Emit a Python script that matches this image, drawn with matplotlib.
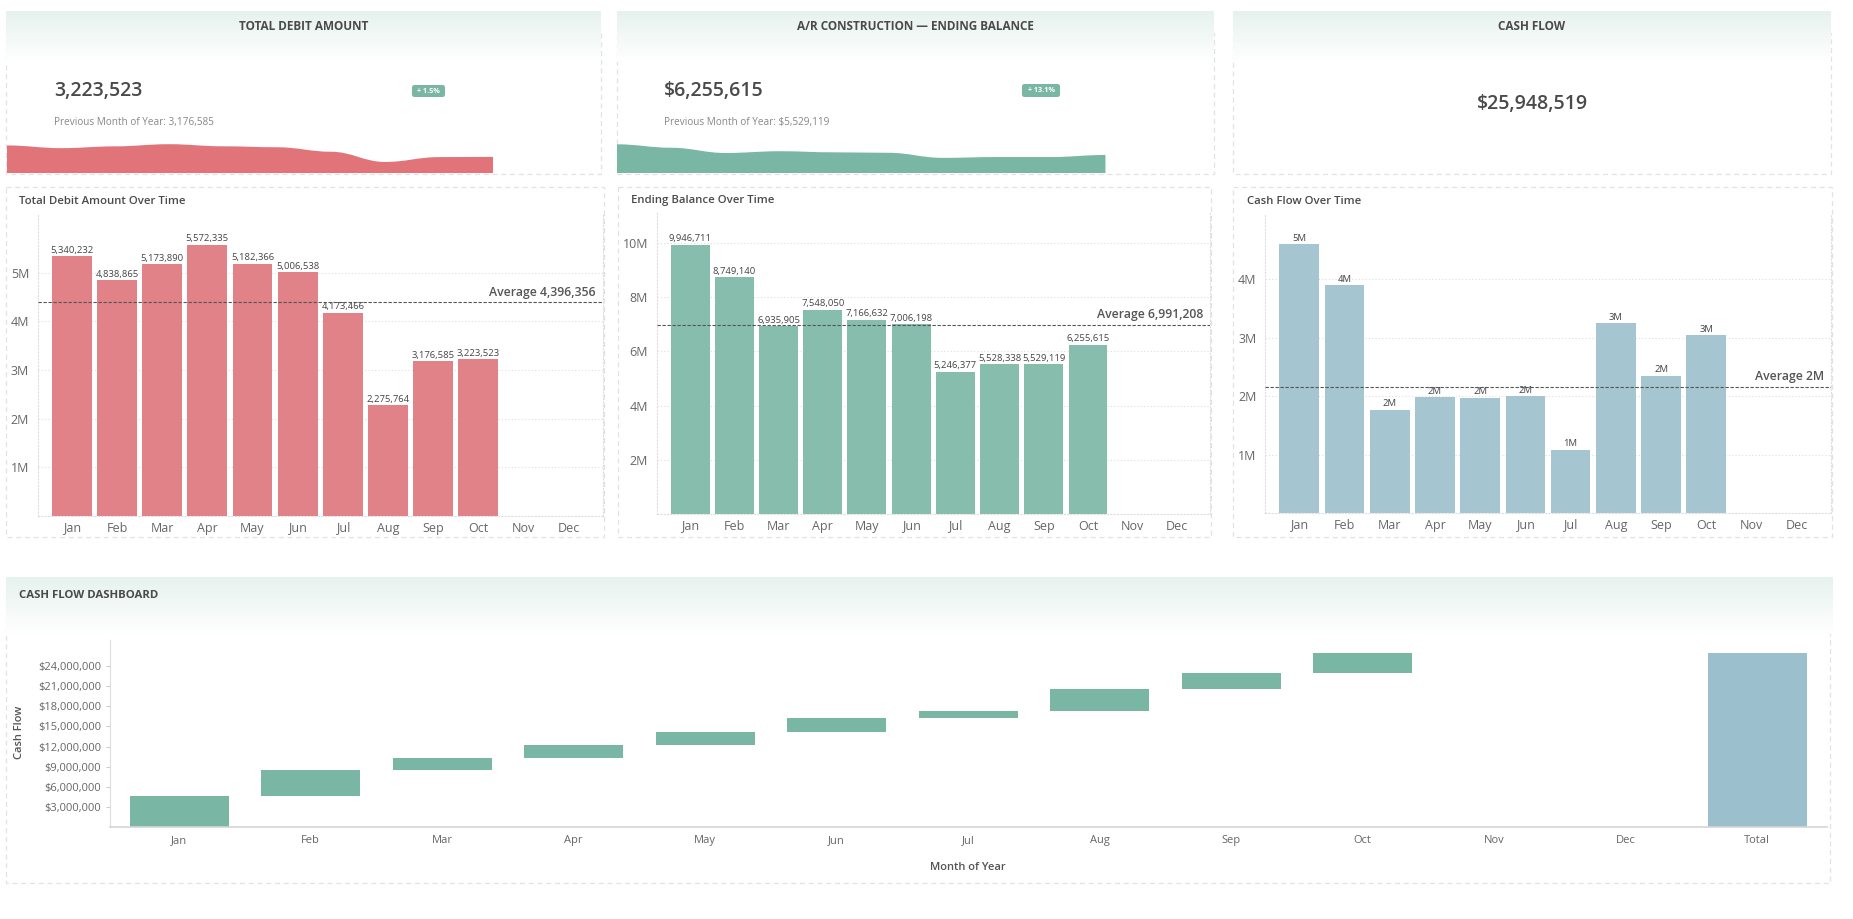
import numpy as np
import matplotlib
matplotlib.use("Agg")
import matplotlib.pyplot as plt
from matplotlib.patches import Rectangle, FancyBboxPatch, PathPatch
from matplotlib.path import Path
from matplotlib.ticker import FuncFormatter, FixedLocator

plt.rcParams['font.family'] = ['Open Sans', 'DejaVu Sans']

# ---------------- data ----------------
months = ['Jan', 'Feb', 'Mar', 'Apr', 'May', 'Jun', 'Jul', 'Aug', 'Sep', 'Oct', 'Nov', 'Dec']
debit = [5340232, 4838865, 5173890, 5572335, 5182366, 5006538, 4173466, 2275764, 3176585, 3223523]
ending = [9946711, 8749140, 6935905, 7548050, 7166632, 7006198, 5246377, 5528338, 5529119, 6255615]
cashflow = [4598000, 3902000, 1768000, 1978000, 1975000, 1996000, 1082000, 3252000, 2352000, 3045519]
waterfall_labels = months + ['Total']
wf_ticks = [3e6, 6e6, 9e6, 12e6, 15e6, 18e6, 21e6, 24e6]

W, H = 1853, 919
fig = plt.figure(figsize=(W / 100, H / 100), dpi=100)
fig.patch.set_facecolor('white')

TXT = '#4a4a4a'
TICK = '#666666'
BORDER = '#e2e2e2'
RED_BAR = '#e08287'
RED_SPARK = '#e07479'
GREEN_BAR = '#87bdac'
GREEN_SPARK = '#7ab6a4'
BLUE_BAR = '#a5c6d0'
BLUE_TOTAL = '#9bbfcd'


def rect(x0, y0, x1, y1):
    return [x0 / W, 1 - y1 / H, (x1 - x0) / W, (y1 - y0) / H]


bg = fig.add_axes([0, 0, 1, 1])
bg.set_xlim(0, W)
bg.set_ylim(H, 0)
bg.axis('off')

grad = np.linspace(0, 1, 64)[:, None]
top_c = np.array([230, 242, 238]) / 255.0
img = top_c[None, None, :] * (1 - grad[:, :, None]) + np.ones(3)[None, None, :] * grad[:, :, None]


def header(x0, y0, x1, y1):
    bg.imshow(img, extent=(x0, x1, y1, y0), aspect='auto', zorder=2, interpolation='bilinear')


def dashed_box(x0, y0, x1, y1):
    bg.add_patch(Rectangle((x0, y0), x1 - x0, y1 - y0, fill=False, ec=BORDER,
                           lw=0.9, ls=(0, (4, 3)), zorder=1))


# ---------------- KPI cards ----------------
cards = [(6, 601), (617, 1214), (1233, 1831)]
card_titles = ['TOTAL DEBIT AMOUNT', 'A/R CONSTRUCTION \u2014 ENDING BALANCE', 'CASH FLOW']
for (x0, x1), t in zip(cards, card_titles):
    dashed_box(x0, 33, x1, 174)
    header(x0, 11, x1, 62)
    bg.text((x0 + x1) / 2, 27, t, ha='center', va='center', fontsize=8.5,
            fontweight='bold', color=TXT, zorder=3)

# card 1
pct1 = (debit[-1] - debit[-2]) / debit[-2] * 100
bg.text(54, 91, f"{debit[-1]:,}", ha='left', va='center', fontsize=14, color=TXT, fontweight='semibold', zorder=3)
bg.text(54, 123, f"Previous Month of Year: {debit[-2]:,}", ha='left', va='center', fontsize=7.2, color='#888888', zorder=3)
bg.add_patch(FancyBboxPatch((412, 85), 33, 12, boxstyle='round,pad=0,rounding_size=2.5',
                            fc=GREEN_SPARK, ec='none', zorder=3))
bg.text(428.5, 91.3, f"+ {pct1:.1f}%", ha='center', va='center', fontsize=5.2, color='white',
        fontweight='bold', zorder=4)

# card 2
pct2 = (ending[-1] - ending[-2]) / ending[-2] * 100
bg.text(664, 91, f"${ending[-1]:,}", ha='left', va='center', fontsize=14, color=TXT, fontweight='semibold', zorder=3)
bg.text(664, 123, f"Previous Month of Year: ${ending[-2]:,}", ha='left', va='center', fontsize=7.2, color='#888888', zorder=3)
bg.add_patch(FancyBboxPatch((1022, 84), 38, 13, boxstyle='round,pad=0,rounding_size=2.5',
                            fc=GREEN_SPARK, ec='none', zorder=3))
bg.text(1041, 90.8, f"+ {pct2:.1f}%", ha='center', va='center', fontsize=5.2, color='white',
        fontweight='bold', zorder=4)

# card 3
total_cf = sum(cashflow)
bg.text(1532, 104, f"${total_cf:,}", ha='center', va='center', fontsize=14, color=TXT, fontweight='semibold', zorder=3)


def smooth_area(ax, vals, color, base):
    xs = np.arange(len(vals))
    verts = [(xs[0], base), (xs[0], vals[0])]
    codes = [Path.MOVETO, Path.LINETO]
    for i in range(len(vals) - 1):
        verts += [(xs[i] + 0.4, vals[i]), (xs[i + 1] - 0.4, vals[i + 1]), (xs[i + 1], vals[i + 1])]
        codes += [Path.CURVE4] * 3
    verts += [(xs[-1], base), (xs[0], base)]
    codes += [Path.LINETO, Path.CLOSEPOLY]
    ax.add_patch(PathPatch(Path(verts, codes), fc=color, ec='none'))


sp1 = fig.add_axes(rect(7, 140, 601, 173))
sp1.set_xlim(0, 11)
sp1.set_ylim(min(debit) * 0.1, max(debit) * 1.14)
smooth_area(sp1, debit, RED_SPARK, min(debit) * 0.1)
sp1.axis('off')

sp2 = fig.add_axes(rect(617, 140, 1214, 173))
sp2.set_xlim(0, 11)
sp2.set_ylim(0, max(ending) * 1.15)
smooth_area(sp2, ending, GREEN_SPARK, 0)
sp2.axis('off')

# ---------------- middle bar panels ----------------
panels = [
    dict(box=(6, 187, 604, 537), title='Total Debit Amount Over Time', tx=19,
         ax=(37.5, 213, 603, 516), vals=debit, color=RED_BAR, kind='full',
         ticks=[1e6, 2e6, 3e6, 4e6, 5e6], avg_div=len(debit)),
    dict(box=(618, 187, 1211, 537), title='Ending Balance Over Time', tx=631,
         ax=(656.5, 213, 1210, 514), vals=ending, color=GREEN_BAR, kind='full',
         ticks=[2e6, 4e6, 6e6, 8e6, 10e6], avg_div=len(ending)),
    dict(box=(1233, 187, 1832, 537), title='Cash Flow Over Time', tx=1247,
         ax=(1265, 213, 1831, 513), vals=cashflow, color=BLUE_BAR, kind='short',
         ticks=[1e6, 2e6, 3e6, 4e6], avg_div=len(months)),
]

for p in panels:
    dashed_box(*p['box'])
    bg.text(p['tx'], 201, p['title'], ha='left', va='center', fontsize=8.2,
            fontweight='semibold', color=TXT, zorder=3)
    ax = fig.add_axes(rect(*p['ax']))
    ax.set_facecolor('none')
    vals = p['vals']
    x = np.arange(len(vals))
    ax.bar(x, vals, width=0.88, color=p['color'], zorder=2)
    ax.set_xlim(-0.76, 11.76)
    ax.set_ylim(0, max(vals) * 1.117)
    ax.set_xticks(np.arange(len(months)))
    ax.set_xticklabels(months)
    ax.yaxis.set_major_locator(FixedLocator(p['ticks']))
    ax.yaxis.set_major_formatter(FuncFormatter(lambda v, pos: f"{v / 1e6:.0f}M"))
    ax.tick_params(axis='both', length=0, labelsize=9, colors=TICK)
    ax.tick_params(axis='x', pad=4)
    ax.tick_params(axis='y', pad=6)
    ax.grid(axis='y', color='#dddddd', ls=(0, (1, 2)), lw=0.8, zorder=0)
    for s in ['left', 'right', 'bottom']:
        ax.spines[s].set_color('#dddddd')
        ax.spines[s].set_linestyle((0, (1, 2)))
        ax.spines[s].set_linewidth(0.8)
    ax.spines['top'].set_visible(False)
    for xi, v in zip(x, vals):
        lab = f"{v:,}" if p['kind'] == 'full' else f"{v / 1e6:.0f}M"
        ax.annotate(lab, (xi, v), xytext=(0, 1), textcoords='offset points',
                    ha='center', va='bottom', fontsize=6.8, color='#444444', zorder=3)
    avg = sum(vals) / p['avg_div']
    ax.axhline(avg, color='#555555', lw=0.8, ls=(0, (3, 1.5)), zorder=3)
    avg_lab = f"Average {avg:,.0f}" if p['kind'] == 'full' else f"Average {avg / 1e6:.0f}M"
    ax.annotate(avg_lab, (1, avg), xycoords=('axes fraction', 'data'), xytext=(-5, 2.5),
                textcoords='offset points', ha='right', va='bottom', fontsize=8.8,
                fontweight='semibold', color='#555555', zorder=4)

# ---------------- waterfall ----------------
dashed_box(6, 600, 1830, 883)
header(6, 577, 1833, 634)
bg.text(19, 595, 'CASH FLOW DASHBOARD', ha='left', va='center', fontsize=8.2,
        fontweight='bold', color=TXT, zorder=3)

wf = fig.add_axes(rect(109.5, 640, 1827, 827))
wf.set_facecolor('none')
cum = np.concatenate([[0], np.cumsum(cashflow)])
starts = cum[:-1]
wf.bar(np.arange(len(cashflow)), cashflow, bottom=starts, width=0.75, color=GREEN_SPARK, zorder=2)
wf.bar([len(waterfall_labels) - 1], [total_cf], width=0.75, color=BLUE_TOTAL, zorder=2)
wf.set_xlim(-0.53, len(waterfall_labels) - 1 + 0.53)
wf.set_ylim(0, total_cf * 1.075)
wf.set_xticks(np.arange(len(waterfall_labels)))
wf.set_xticklabels(waterfall_labels)
wf.yaxis.set_major_locator(FixedLocator(wf_ticks))
wf.yaxis.set_major_formatter(FuncFormatter(lambda v, pos: f"${v:,.0f}"))
wf.tick_params(axis='y', length=3, width=0.8, color='#cccccc', labelsize=8, colors=TICK, labelcolor=TICK, pad=3)
wf.tick_params(axis='x', length=0, labelsize=8, labelcolor=TICK, pad=6)
for s in ['top', 'right']:
    wf.spines[s].set_visible(False)
wf.spines['left'].set_color('#dddddd')
wf.spines['left'].set_linewidth(0.8)
wf.spines['bottom'].set_color('#d5d5d5')
wf.spines['bottom'].set_linewidth(1.2)
wf.set_xlabel('Month of Year', fontsize=8, color='#555555', fontweight='semibold', labelpad=11)
bg.text(20, 732, 'Cash Flow', rotation=90, ha='center', va='center', fontsize=8,
        color='#555555', fontweight='semibold', zorder=3)

fig.savefig('out.png', dpi=100, facecolor='white')
